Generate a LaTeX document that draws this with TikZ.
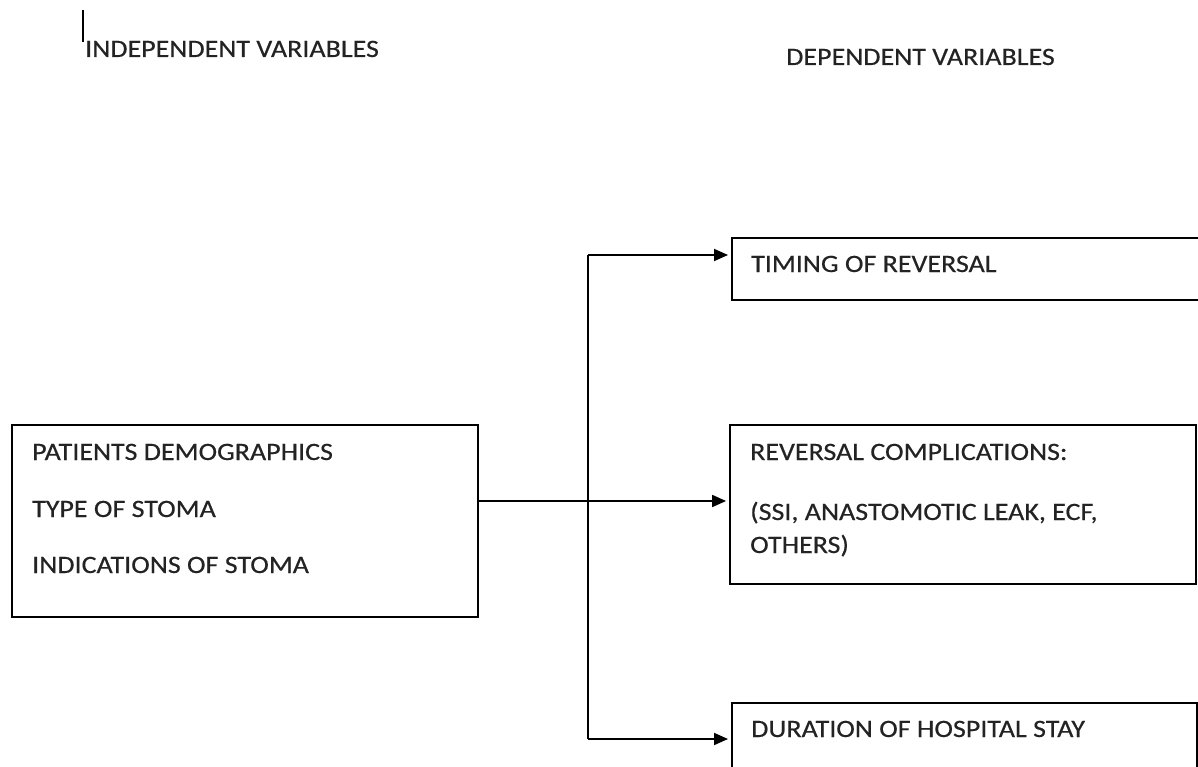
\documentclass[tikz,border=0pt]{standalone}
\usepackage{fontspec}
\setmainfont{Carlito}[FakeStretch=1.12, FakeBold=0.4]
\usepackage{tikz}
\usetikzlibrary{arrows.meta}
\definecolor{ink}{RGB}{35,35,35}

\begin{document}
\begin{tikzpicture}[x=1pt, y=-1pt, font=\fontsize{25}{30}\selectfont, >={Triangle[length=14pt,width=12pt]}]
    \clip (0,0) rectangle (1198,767);
    \fill[white] (0,0) rectangle (1198,767);

    % boxes
    \node[draw, line width=1.8pt, minimum width=466pt, minimum height=192pt] (demog) at (245,521) {};
    \node[draw, line width=1.8pt, minimum width=480pt, minimum height=62pt, anchor=north west] (timing) at (731,237) {};
    \node[draw, line width=1.8pt, minimum width=466pt, minimum height=159pt] (compl) at (963,504.5) {};
    \node[draw, line width=1.8pt, minimum width=465pt, minimum height=90pt, anchor=north west] (stay) at (731,702) {};

    % texts
    \node[anchor=base west, inner sep=0pt, text=ink] (indep) at (85,57) {INDEPENDENT VARIABLES};
    \node[anchor=base west, inner sep=0pt, text=ink] (dep) at (786,65) {DEPENDENT VARIABLES};
    \node[anchor=base west, inner sep=0pt, text=ink] (t1) at (32,460) {PATIENTS DEMOGRAPHICS};
    \node[anchor=base west, inner sep=0pt, text=ink] (t2) at (32,517) {TYPE OF STOMA};
    \node[anchor=base west, inner sep=0pt, text=ink] (t3) at (32,573) {INDICATIONS OF STOMA};
    \node[anchor=base west, inner sep=0pt, text=ink] (t4) at (751,272) {TIMING OF REVERSAL};
    \node[anchor=base west, inner sep=0pt, text=ink] (t5) at (750,460) {REVERSAL COMPLICATIONS:};
    \node[anchor=base west, inner sep=0pt, text=ink] (t6) at (750,520) {(SSI, ANASTOMOTIC LEAK, ECF,};
    \node[anchor=base west, inner sep=0pt, text=ink] (t7) at (750,553) {OTHERS)};
    \node[anchor=base west, inner sep=0pt, text=ink] (t8) at (751,737) {DURATION OF HOSPITAL STAY};

    % cursor mark
    \draw[line width=1.3pt] (83,10) -- (83,42);

    % connectors
    \coordinate (hub) at (588,501);
    \coordinate (hubtop) at (588,255);
    \coordinate (hubbot) at (588,739);
    \draw[line width=1.8pt] (hubtop) -- (hubbot);
    \draw[->, line width=1.8pt, shorten >=3pt] (hub -| demog.east) -- (hub -| compl.west);
    \draw[->, line width=1.8pt, shorten >=3pt] (hubtop) -- (hubtop -| timing.west);
    \draw[->, line width=1.8pt, shorten >=3pt] (hubbot) -- (hubbot -| stay.west);
\end{tikzpicture}
\end{document}
